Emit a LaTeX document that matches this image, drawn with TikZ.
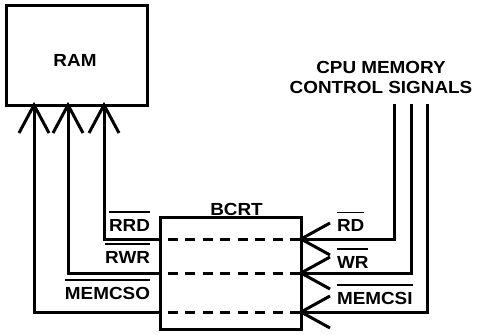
\documentclass[tikz,border=0pt]{standalone}
\usepackage{fontspec}
\setmainfont{Liberation Sans}[FakeStretch=1.08]
\newcommand\ovl[1]{\vbox{\hrule height 1.6pt\kern 6.3pt\hbox{#1}}}
\begin{document}
\begin{tikzpicture}[x=1pt,y=-1pt,line width=3pt,
  lbl/.style={font=\bfseries\fontsize{17.5}{19}\selectfont,inner sep=0pt,outer sep=0pt},
  blk/.style={draw,line width=3pt,inner sep=0pt,outer sep=0pt},
  sig/.style={line width=3pt},
  dsh/.style={line width=3pt,dash pattern=on 10pt off 7.5pt,dash phase=10pt}]
\useasboundingbox (0,0) rectangle (478,334);
% blocks
\node[blk,minimum width=141pt,minimum height=99pt] (ram) at (76.5,55.5) {};
\node[blk,minimum width=141pt,minimum height=112pt] (bcrt) at (230.5,273) {};
\node[lbl,anchor=base] (ramlbl) at (75,66.7) {RAM};
\node[lbl,anchor=base] (bcrtlbl) at (236.5,215) {BCRT};
\node[lbl,anchor=base] (cpu1) at (381,74) {CPU MEMORY};
\node[lbl,anchor=base] (cpu2) at (381,93) {CONTROL SIGNALS};
% corner coordinates
\coordinate (a1) at (104,239);
\coordinate (a2) at (68,273);
\coordinate (a3) at (34,312);
\coordinate (b1) at (394,239);
\coordinate (b2) at (411,273);
\coordinate (b3) at (427,312);
\coordinate (t1) at (394,104);
\coordinate (t2) at (411,104);
\coordinate (t3) at (427,104);
% left signals to RAM
\foreach \c in {a1,a2,a3}{
  \draw[sig] (bcrt.west |- \c) -- (\c) -- (\c |- ram.south);
  \draw[sig] (\c |- ram.south) ++(-15,28) -- ++(15,-28) -- ++(15,28);
}
% right signals from CPU
\foreach \c/\t in {b1/t1,b2/t2,b3/t3}{
  \draw[sig] (\t) -- (\c) -- (\c -| bcrt.east);
  \draw[sig] (\c -| bcrt.east) ++(29,-16) -- ++(-29,16) -- ++(29,16);
}
% dashed paths through BCRT
\foreach \c in {a1,a2,a3}{
  \draw[dsh] (bcrt.west |- \c) -- (bcrt.east |- \c);
}
% labels
\node[lbl,anchor=base east] (rrd) at (150,231) {\ovl{RRD}};
\node[lbl,anchor=base east] (rwr) at (150,263) {\ovl{RWR}};
\node[lbl,anchor=base east] (memcso) at (150,299.3) {\ovl{MEMCSO}};
\node[lbl,anchor=base west] (rd) at (337,231.7) {\ovl{RD}};
\node[lbl,anchor=base west] (wr) at (337,268.3) {\ovl{WR}};
\node[lbl,anchor=base west] (memcsi) at (337,304.5) {\ovl{MEMCSI}};
\end{tikzpicture}
\end{document}
